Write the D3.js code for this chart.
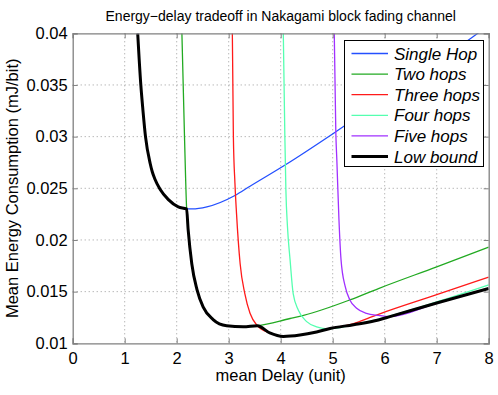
<!DOCTYPE html>
<html>
<head>
<meta charset="utf-8">
<script src="https://cdn.jsdelivr.net/npm/d3@7"></script>
<style>
  body { margin: 0; background: #fff; }
  text { font-family: "Liberation Sans", Arial, sans-serif; }
</style>
</head>
<body>
<div id="chart"></div>
<script>
// values
var xTicks = [0, 1, 2, 3, 4, 5, 6, 7, 8];
var yTicks = [0.01, 0.015, 0.02, 0.025, 0.03, 0.035, 0.04];
var seriesNames = ['Single Hop', 'Two hops', 'Three hops', 'Four hops', 'Five hops', 'Low bound'];
var seriesColors = ['#2450ff', '#22aa22', '#ff1a1a', '#55ffb0', '#a030ff', '#000000'];

var singleX = [1.25, 1.31, 1.35, 1.40, 1.49, 1.53, 1.58, 1.68, 1.84, 2.03, 2.19, 2.30, 2.58, 3.12, 3.41, 4.10, 5.04, 6.00, 7.00, 7.79, 8.0];
var singleY = [0.0400, 0.0350, 0.0326, 0.0300, 0.0274, 0.0266, 0.0259, 0.0249, 0.0239, 0.0232, 0.0230, 0.0230, 0.0232, 0.0243, 0.0252, 0.0273, 0.0304, 0.0337, 0.0372, 0.0400, 0.0408];

var twoX = [2.10, 2.15, 2.19, 2.22, 2.29, 2.39, 2.51, 2.70, 2.96, 3.28, 3.55, 4.18, 4.44, 5.33, 5.88, 7.00, 8.00];
var twoY = [0.0400, 0.0300, 0.0231, 0.0210, 0.0177, 0.0152, 0.0135, 0.0123, 0.0117, 0.0116, 0.0117, 0.0124, 0.0127, 0.0142, 0.0153, 0.0174, 0.0193];

var threeX = [3.07, 3.09, 3.12, 3.15, 3.22, 3.31, 3.41, 3.55, 3.79, 4.05, 4.37, 4.69, 4.98, 5.40, 5.72, 5.88, 7.00, 8.00];
var threeY = [0.0400, 0.0300, 0.0255, 0.0226, 0.0177, 0.0148, 0.0129, 0.0117, 0.0110, 0.01066, 0.0108, 0.0111, 0.01145, 0.0119, 0.0125, 0.0128, 0.0147, 0.0164];

var fourX = [4.05, 4.08, 4.10, 4.13, 4.18, 4.24, 4.34, 4.50, 4.69, 4.92, 5.40, 5.88, 7.00, 8.00];
var fourY = [0.0400, 0.0300, 0.0248, 0.0213, 0.0181, 0.0148, 0.0132, 0.0121, 0.0116, 0.0114, 0.0118, 0.01235, 0.0140, 0.01565];

var fiveX = [5.03, 5.06, 5.08, 5.12, 5.16, 5.24, 5.33, 5.46, 5.65, 5.88, 6.10, 7.00, 8.00];
var fiveY = [0.0400, 0.0304, 0.0277, 0.0220, 0.0181, 0.0155, 0.0142, 0.0134, 0.0129, 0.0127, 0.01258, 0.0139, 0.0153];

var lowX = [1.25, 1.31, 1.35, 1.40, 1.49, 1.53, 1.58, 1.68, 1.84, 2.03, 2.19, 2.22, 2.29, 2.39, 2.51, 2.70, 2.96, 3.28, 3.55, 3.79, 4.05, 4.37, 4.69, 4.95, 5.40, 5.88, 6.10, 7.00, 8.00];
var lowY = [0.0400, 0.0350, 0.0326, 0.0300, 0.0274, 0.0266, 0.0259, 0.0249, 0.0239, 0.0232, 0.0230, 0.0210, 0.0177, 0.0152, 0.0135, 0.0123, 0.0117, 0.0116, 0.0117, 0.0110, 0.01066, 0.0108, 0.0111, 0.01143, 0.0118, 0.01226, 0.01258, 0.0139, 0.0153];

var seriesX = [singleX, twoX, threeX, fourX, fiveX, lowX];
var seriesY = [singleY, twoY, threeY, fourY, fiveY, lowY];

var W = 498, H = 395;
var margin = {top: 33.3, right: 9.3, bottom: 51.7, left: 72.7};
var width = W - margin.left - margin.right;
var height = H - margin.top - margin.bottom;

var svg = d3.select('#chart').append('svg')
    .attr('width', W)
    .attr('height', H);

var x = d3.scaleLinear().domain([0, 8]).range([0, width]);
var y = d3.scaleLinear().domain([0.01, 0.04]).range([height, 0]);

var g = svg.append('g')
    .attr('transform', 'translate(' + margin.left + ',' + margin.top + ')');

svg.append('defs').append('clipPath').attr('id', 'clip')
  .append('rect').attr('width', width).attr('height', height);

// grid
g.append('g').selectAll('line').data(xTicks.slice(1, -1)).enter().append('line')
    .attr('x1', function(d) { return x(d); }).attr('x2', function(d) { return x(d); })
    .attr('y1', 0).attr('y2', height)
    .attr('stroke', '#9a9a9a').attr('stroke-width', 1).attr('stroke-dasharray', '1,3');
g.append('g').selectAll('line').data(yTicks.slice(1, -1)).enter().append('line')
    .attr('y1', function(d) { return y(d); }).attr('y2', function(d) { return y(d); })
    .attr('x1', 0).attr('x2', width)
    .attr('stroke', '#9a9a9a').attr('stroke-width', 1).attr('stroke-dasharray', '1,3');

// curves
var line = d3.line()
    .x(function(d) { return x(d[0]); })
    .y(function(d) { return y(d[1]); })
    .curve(d3.curveMonotoneX);

var lines = g.append('g').attr('clip-path', 'url(#clip)');
seriesNames.forEach(function(name, i) {
  var pts = seriesX[i].map(function(v, j) { return [v, seriesY[i][j]]; });
  lines.append('path')
      .datum(pts)
      .attr('fill', 'none')
      .attr('stroke', seriesColors[i])
      .attr('stroke-width', i === 5 ? 3 : 1.3)
      .attr('stroke-linejoin', 'round')
      .attr('d', line);
});

// axes (ticks pointing inward, mirrored on top and right)
var tickLen = 5;
var xAxis = g.append('g')
    .attr('transform', 'translate(0,' + height + ')')
    .call(d3.axisBottom(x).tickValues(xTicks).tickSize(-tickLen).tickPadding(9).tickFormat(d3.format('d')));
var yAxis = g.append('g')
    .call(d3.axisLeft(y).tickValues(yTicks).tickSize(-tickLen).tickPadding(5).tickFormat(function(d) { return String(+d.toFixed(3)); }));
var xTop = g.append('g')
    .call(d3.axisTop(x).tickValues(xTicks).tickSize(-tickLen).tickFormat(''));
var yRight = g.append('g')
    .attr('transform', 'translate(' + width + ',0)')
    .call(d3.axisRight(y).tickValues(yTicks).tickSize(-tickLen).tickFormat(''));

[xAxis, yAxis, xTop, yRight].forEach(function(a) {
  a.select('.domain').attr('stroke', '#808080').attr('stroke-width', 1.3);
  a.selectAll('.tick line').attr('stroke', '#808080');
  a.selectAll('.tick text').attr('font-size', 16.5).attr('fill', '#000')
      .attr('font-family', '"Liberation Sans", Arial, sans-serif');
});

// title and axis labels
svg.append('text')
    .attr('x', margin.left + width / 2).attr('y', 20.5)
    .attr('text-anchor', 'middle').attr('font-size', 14)
    .text('Energy\u2212delay tradeoff in Nakagami block fading channel');
svg.append('text')
    .attr('x', margin.left + width / 2).attr('y', 381)
    .attr('text-anchor', 'middle').attr('font-size', 16.5)
    .text('mean Delay (unit)');
svg.append('text')
    .attr('transform', 'translate(18,' + (margin.top + height / 2) + ') rotate(-90)')
    .attr('text-anchor', 'middle').attr('font-size', 16.5)
    .text('Mean Energy Consumption (mJ/bit)');

// legend
var legend = svg.append('g').attr('transform', 'translate(344.5,40.5)');
legend.append('rect')
    .attr('width', 139).attr('height', 126)
    .attr('fill', '#fff').attr('stroke', '#000').attr('stroke-width', 1);
seriesNames.forEach(function(name, i) {
  var ly = 13 + i * 20.6;
  legend.append('line')
      .attr('x1', 7).attr('x2', 43.5).attr('y1', ly).attr('y2', ly)
      .attr('stroke', seriesColors[i]).attr('stroke-width', i === 5 ? 3 : 1.3);
  legend.append('text')
      .attr('x', 49.5).attr('y', ly + 6)
      .attr('font-size', 17).attr('font-style', 'italic')
      .text(name);
});
</script>
</body>
</html>
